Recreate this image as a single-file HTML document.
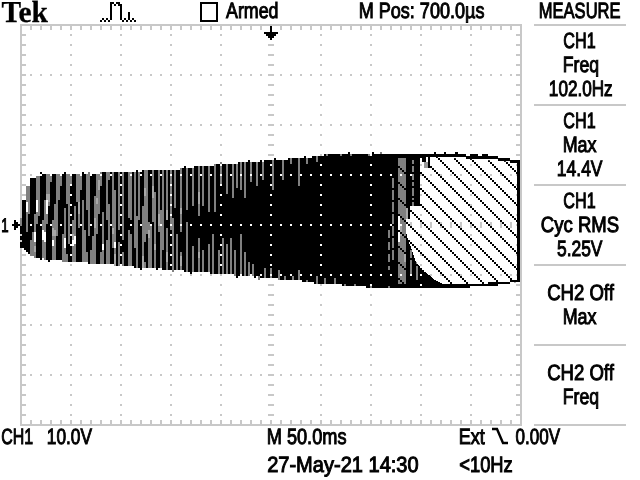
<!DOCTYPE html>
<html><head><meta charset="utf-8"><title>Tek</title>
<style>html,body{margin:0;padding:0;background:#fff;overflow:hidden;width:640px;height:480px}svg{display:block}text{fill:#000}</style></head>
<body><svg width="640" height="480" viewBox="0 0 640 480" shape-rendering="crispEdges">
<rect width="640" height="480" fill="#fff"/>
<path d="M20 24h502v2h-502zM20 424h502v2h-502zM20 24h2v402h-2zM520 24h2v402h-2zM30 26h2v4h-2zM30 420h2v4h-2zM40 26h2v4h-2zM40 420h2v4h-2zM50 26h2v4h-2zM50 420h2v4h-2zM60 26h2v4h-2zM60 420h2v4h-2zM70 26h2v4h-2zM70 420h2v4h-2zM80 26h2v4h-2zM80 420h2v4h-2zM90 26h2v4h-2zM90 420h2v4h-2zM100 26h2v4h-2zM100 420h2v4h-2zM110 26h2v4h-2zM110 420h2v4h-2zM120 26h2v4h-2zM120 420h2v4h-2zM130 26h2v4h-2zM130 420h2v4h-2zM140 26h2v4h-2zM140 420h2v4h-2zM150 26h2v4h-2zM150 420h2v4h-2zM160 26h2v4h-2zM160 420h2v4h-2zM170 26h2v4h-2zM170 420h2v4h-2zM180 26h2v4h-2zM180 420h2v4h-2zM190 26h2v4h-2zM190 420h2v4h-2zM200 26h2v4h-2zM200 420h2v4h-2zM210 26h2v4h-2zM210 420h2v4h-2zM220 26h2v4h-2zM220 420h2v4h-2zM230 26h2v4h-2zM230 420h2v4h-2zM240 26h2v4h-2zM240 420h2v4h-2zM250 26h2v4h-2zM250 420h2v4h-2zM260 26h2v4h-2zM260 420h2v4h-2zM270 26h2v4h-2zM270 420h2v4h-2zM280 26h2v4h-2zM280 420h2v4h-2zM290 26h2v4h-2zM290 420h2v4h-2zM300 26h2v4h-2zM300 420h2v4h-2zM310 26h2v4h-2zM310 420h2v4h-2zM320 26h2v4h-2zM320 420h2v4h-2zM330 26h2v4h-2zM330 420h2v4h-2zM340 26h2v4h-2zM340 420h2v4h-2zM350 26h2v4h-2zM350 420h2v4h-2zM360 26h2v4h-2zM360 420h2v4h-2zM370 26h2v4h-2zM370 420h2v4h-2zM380 26h2v4h-2zM380 420h2v4h-2zM390 26h2v4h-2zM390 420h2v4h-2zM400 26h2v4h-2zM400 420h2v4h-2zM410 26h2v4h-2zM410 420h2v4h-2zM420 26h2v4h-2zM420 420h2v4h-2zM430 26h2v4h-2zM430 420h2v4h-2zM440 26h2v4h-2zM440 420h2v4h-2zM450 26h2v4h-2zM450 420h2v4h-2zM460 26h2v4h-2zM460 420h2v4h-2zM470 26h2v4h-2zM470 420h2v4h-2zM480 26h2v4h-2zM480 420h2v4h-2zM490 26h2v4h-2zM490 420h2v4h-2zM500 26h2v4h-2zM500 420h2v4h-2zM510 26h2v4h-2zM510 420h2v4h-2zM22 34h4v2h-4zM516 34h4v2h-4zM22 44h4v2h-4zM516 44h4v2h-4zM22 54h4v2h-4zM516 54h4v2h-4zM22 64h4v2h-4zM516 64h4v2h-4zM22 74h4v2h-4zM516 74h4v2h-4zM22 84h4v2h-4zM516 84h4v2h-4zM22 94h4v2h-4zM516 94h4v2h-4zM22 104h4v2h-4zM516 104h4v2h-4zM22 114h4v2h-4zM516 114h4v2h-4zM22 124h4v2h-4zM516 124h4v2h-4zM22 134h4v2h-4zM516 134h4v2h-4zM22 144h4v2h-4zM516 144h4v2h-4zM22 154h4v2h-4zM516 154h4v2h-4zM22 164h4v2h-4zM516 164h4v2h-4zM22 174h4v2h-4zM516 174h4v2h-4zM22 184h4v2h-4zM516 184h4v2h-4zM22 194h4v2h-4zM516 194h4v2h-4zM22 204h4v2h-4zM516 204h4v2h-4zM22 214h4v2h-4zM516 214h4v2h-4zM22 224h4v2h-4zM516 224h4v2h-4zM22 234h4v2h-4zM516 234h4v2h-4zM22 244h4v2h-4zM516 244h4v2h-4zM22 254h4v2h-4zM516 254h4v2h-4zM22 264h4v2h-4zM516 264h4v2h-4zM22 274h4v2h-4zM516 274h4v2h-4zM22 284h4v2h-4zM516 284h4v2h-4zM22 294h4v2h-4zM516 294h4v2h-4zM22 304h4v2h-4zM516 304h4v2h-4zM22 314h4v2h-4zM516 314h4v2h-4zM22 324h4v2h-4zM516 324h4v2h-4zM22 334h4v2h-4zM516 334h4v2h-4zM22 344h4v2h-4zM516 344h4v2h-4zM22 354h4v2h-4zM516 354h4v2h-4zM22 364h4v2h-4zM516 364h4v2h-4zM22 374h4v2h-4zM516 374h4v2h-4zM22 384h4v2h-4zM516 384h4v2h-4zM22 394h4v2h-4zM516 394h4v2h-4zM22 404h4v2h-4zM516 404h4v2h-4zM22 414h4v2h-4zM516 414h4v2h-4zM30 222h2v6h-2zM40 222h2v6h-2zM50 222h2v6h-2zM60 222h2v6h-2zM70 222h2v6h-2zM80 222h2v6h-2zM90 222h2v6h-2zM100 222h2v6h-2zM110 222h2v6h-2zM120 222h2v6h-2zM130 222h2v6h-2zM140 222h2v6h-2zM150 222h2v6h-2zM160 222h2v6h-2zM170 222h2v6h-2zM180 222h2v6h-2zM190 222h2v6h-2zM200 222h2v6h-2zM210 222h2v6h-2zM220 222h2v6h-2zM230 222h2v6h-2zM240 222h2v6h-2zM250 222h2v6h-2zM260 222h2v6h-2zM270 222h2v6h-2zM280 222h2v6h-2zM290 222h2v6h-2zM300 222h2v6h-2zM310 222h2v6h-2zM320 222h2v6h-2zM330 222h2v6h-2zM340 222h2v6h-2zM350 222h2v6h-2zM360 222h2v6h-2zM370 222h2v6h-2zM380 222h2v6h-2zM390 222h2v6h-2zM400 222h2v6h-2zM410 222h2v6h-2zM420 222h2v6h-2zM430 222h2v6h-2zM440 222h2v6h-2zM450 222h2v6h-2zM460 222h2v6h-2zM470 222h2v6h-2zM480 222h2v6h-2zM490 222h2v6h-2zM500 222h2v6h-2zM510 222h2v6h-2zM268 34h6v2h-6zM268 44h6v2h-6zM268 54h6v2h-6zM268 64h6v2h-6zM268 74h6v2h-6zM268 84h6v2h-6zM268 94h6v2h-6zM268 104h6v2h-6zM268 114h6v2h-6zM268 124h6v2h-6zM268 134h6v2h-6zM268 144h6v2h-6zM268 154h6v2h-6zM268 164h6v2h-6zM268 174h6v2h-6zM268 184h6v2h-6zM268 194h6v2h-6zM268 204h6v2h-6zM268 214h6v2h-6zM268 224h6v2h-6zM268 234h6v2h-6zM268 244h6v2h-6zM268 254h6v2h-6zM268 264h6v2h-6zM268 274h6v2h-6zM268 284h6v2h-6zM268 294h6v2h-6zM268 304h6v2h-6zM268 314h6v2h-6zM268 324h6v2h-6zM268 334h6v2h-6zM268 344h6v2h-6zM268 354h6v2h-6zM268 364h6v2h-6zM268 374h6v2h-6zM268 384h6v2h-6zM268 394h6v2h-6zM268 404h6v2h-6zM268 414h6v2h-6zM70 34h2v2h-2zM70 44h2v2h-2zM70 54h2v2h-2zM70 64h2v2h-2zM70 74h2v2h-2zM70 84h2v2h-2zM70 94h2v2h-2zM70 104h2v2h-2zM70 114h2v2h-2zM70 124h2v2h-2zM70 134h2v2h-2zM70 144h2v2h-2zM70 154h2v2h-2zM70 164h2v2h-2zM70 174h2v2h-2zM70 184h2v2h-2zM70 194h2v2h-2zM70 204h2v2h-2zM70 214h2v2h-2zM70 224h2v2h-2zM70 234h2v2h-2zM70 244h2v2h-2zM70 254h2v2h-2zM70 264h2v2h-2zM70 274h2v2h-2zM70 284h2v2h-2zM70 294h2v2h-2zM70 304h2v2h-2zM70 314h2v2h-2zM70 324h2v2h-2zM70 334h2v2h-2zM70 344h2v2h-2zM70 354h2v2h-2zM70 364h2v2h-2zM70 374h2v2h-2zM70 384h2v2h-2zM70 394h2v2h-2zM70 404h2v2h-2zM70 414h2v2h-2zM120 34h2v2h-2zM120 44h2v2h-2zM120 54h2v2h-2zM120 64h2v2h-2zM120 74h2v2h-2zM120 84h2v2h-2zM120 94h2v2h-2zM120 104h2v2h-2zM120 114h2v2h-2zM120 124h2v2h-2zM120 134h2v2h-2zM120 144h2v2h-2zM120 154h2v2h-2zM120 164h2v2h-2zM120 174h2v2h-2zM120 184h2v2h-2zM120 194h2v2h-2zM120 204h2v2h-2zM120 214h2v2h-2zM120 224h2v2h-2zM120 234h2v2h-2zM120 244h2v2h-2zM120 254h2v2h-2zM120 264h2v2h-2zM120 274h2v2h-2zM120 284h2v2h-2zM120 294h2v2h-2zM120 304h2v2h-2zM120 314h2v2h-2zM120 324h2v2h-2zM120 334h2v2h-2zM120 344h2v2h-2zM120 354h2v2h-2zM120 364h2v2h-2zM120 374h2v2h-2zM120 384h2v2h-2zM120 394h2v2h-2zM120 404h2v2h-2zM120 414h2v2h-2zM170 34h2v2h-2zM170 44h2v2h-2zM170 54h2v2h-2zM170 64h2v2h-2zM170 74h2v2h-2zM170 84h2v2h-2zM170 94h2v2h-2zM170 104h2v2h-2zM170 114h2v2h-2zM170 124h2v2h-2zM170 134h2v2h-2zM170 144h2v2h-2zM170 154h2v2h-2zM170 164h2v2h-2zM170 174h2v2h-2zM170 184h2v2h-2zM170 194h2v2h-2zM170 204h2v2h-2zM170 214h2v2h-2zM170 224h2v2h-2zM170 234h2v2h-2zM170 244h2v2h-2zM170 254h2v2h-2zM170 264h2v2h-2zM170 274h2v2h-2zM170 284h2v2h-2zM170 294h2v2h-2zM170 304h2v2h-2zM170 314h2v2h-2zM170 324h2v2h-2zM170 334h2v2h-2zM170 344h2v2h-2zM170 354h2v2h-2zM170 364h2v2h-2zM170 374h2v2h-2zM170 384h2v2h-2zM170 394h2v2h-2zM170 404h2v2h-2zM170 414h2v2h-2zM220 34h2v2h-2zM220 44h2v2h-2zM220 54h2v2h-2zM220 64h2v2h-2zM220 74h2v2h-2zM220 84h2v2h-2zM220 94h2v2h-2zM220 104h2v2h-2zM220 114h2v2h-2zM220 124h2v2h-2zM220 134h2v2h-2zM220 144h2v2h-2zM220 154h2v2h-2zM220 164h2v2h-2zM220 174h2v2h-2zM220 184h2v2h-2zM220 194h2v2h-2zM220 204h2v2h-2zM220 214h2v2h-2zM220 224h2v2h-2zM220 234h2v2h-2zM220 244h2v2h-2zM220 254h2v2h-2zM220 264h2v2h-2zM220 274h2v2h-2zM220 284h2v2h-2zM220 294h2v2h-2zM220 304h2v2h-2zM220 314h2v2h-2zM220 324h2v2h-2zM220 334h2v2h-2zM220 344h2v2h-2zM220 354h2v2h-2zM220 364h2v2h-2zM220 374h2v2h-2zM220 384h2v2h-2zM220 394h2v2h-2zM220 404h2v2h-2zM220 414h2v2h-2zM270 34h2v2h-2zM270 44h2v2h-2zM270 54h2v2h-2zM270 64h2v2h-2zM270 74h2v2h-2zM270 84h2v2h-2zM270 94h2v2h-2zM270 104h2v2h-2zM270 114h2v2h-2zM270 124h2v2h-2zM270 134h2v2h-2zM270 144h2v2h-2zM270 154h2v2h-2zM270 164h2v2h-2zM270 174h2v2h-2zM270 184h2v2h-2zM270 194h2v2h-2zM270 204h2v2h-2zM270 214h2v2h-2zM270 224h2v2h-2zM270 234h2v2h-2zM270 244h2v2h-2zM270 254h2v2h-2zM270 264h2v2h-2zM270 274h2v2h-2zM270 284h2v2h-2zM270 294h2v2h-2zM270 304h2v2h-2zM270 314h2v2h-2zM270 324h2v2h-2zM270 334h2v2h-2zM270 344h2v2h-2zM270 354h2v2h-2zM270 364h2v2h-2zM270 374h2v2h-2zM270 384h2v2h-2zM270 394h2v2h-2zM270 404h2v2h-2zM270 414h2v2h-2zM320 34h2v2h-2zM320 44h2v2h-2zM320 54h2v2h-2zM320 64h2v2h-2zM320 74h2v2h-2zM320 84h2v2h-2zM320 94h2v2h-2zM320 104h2v2h-2zM320 114h2v2h-2zM320 124h2v2h-2zM320 134h2v2h-2zM320 144h2v2h-2zM320 154h2v2h-2zM320 164h2v2h-2zM320 174h2v2h-2zM320 184h2v2h-2zM320 194h2v2h-2zM320 204h2v2h-2zM320 214h2v2h-2zM320 224h2v2h-2zM320 234h2v2h-2zM320 244h2v2h-2zM320 254h2v2h-2zM320 264h2v2h-2zM320 274h2v2h-2zM320 284h2v2h-2zM320 294h2v2h-2zM320 304h2v2h-2zM320 314h2v2h-2zM320 324h2v2h-2zM320 334h2v2h-2zM320 344h2v2h-2zM320 354h2v2h-2zM320 364h2v2h-2zM320 374h2v2h-2zM320 384h2v2h-2zM320 394h2v2h-2zM320 404h2v2h-2zM320 414h2v2h-2zM370 34h2v2h-2zM370 44h2v2h-2zM370 54h2v2h-2zM370 64h2v2h-2zM370 74h2v2h-2zM370 84h2v2h-2zM370 94h2v2h-2zM370 104h2v2h-2zM370 114h2v2h-2zM370 124h2v2h-2zM370 134h2v2h-2zM370 144h2v2h-2zM370 154h2v2h-2zM370 164h2v2h-2zM370 174h2v2h-2zM370 184h2v2h-2zM370 194h2v2h-2zM370 204h2v2h-2zM370 214h2v2h-2zM370 224h2v2h-2zM370 234h2v2h-2zM370 244h2v2h-2zM370 254h2v2h-2zM370 264h2v2h-2zM370 274h2v2h-2zM370 284h2v2h-2zM370 294h2v2h-2zM370 304h2v2h-2zM370 314h2v2h-2zM370 324h2v2h-2zM370 334h2v2h-2zM370 344h2v2h-2zM370 354h2v2h-2zM370 364h2v2h-2zM370 374h2v2h-2zM370 384h2v2h-2zM370 394h2v2h-2zM370 404h2v2h-2zM370 414h2v2h-2zM420 34h2v2h-2zM420 44h2v2h-2zM420 54h2v2h-2zM420 64h2v2h-2zM420 74h2v2h-2zM420 84h2v2h-2zM420 94h2v2h-2zM420 104h2v2h-2zM420 114h2v2h-2zM420 124h2v2h-2zM420 134h2v2h-2zM420 144h2v2h-2zM420 154h2v2h-2zM420 164h2v2h-2zM420 174h2v2h-2zM420 184h2v2h-2zM420 194h2v2h-2zM420 204h2v2h-2zM420 214h2v2h-2zM420 224h2v2h-2zM420 234h2v2h-2zM420 244h2v2h-2zM420 254h2v2h-2zM420 264h2v2h-2zM420 274h2v2h-2zM420 284h2v2h-2zM420 294h2v2h-2zM420 304h2v2h-2zM420 314h2v2h-2zM420 324h2v2h-2zM420 334h2v2h-2zM420 344h2v2h-2zM420 354h2v2h-2zM420 364h2v2h-2zM420 374h2v2h-2zM420 384h2v2h-2zM420 394h2v2h-2zM420 404h2v2h-2zM420 414h2v2h-2zM470 34h2v2h-2zM470 44h2v2h-2zM470 54h2v2h-2zM470 64h2v2h-2zM470 74h2v2h-2zM470 84h2v2h-2zM470 94h2v2h-2zM470 104h2v2h-2zM470 114h2v2h-2zM470 124h2v2h-2zM470 134h2v2h-2zM470 144h2v2h-2zM470 154h2v2h-2zM470 164h2v2h-2zM470 174h2v2h-2zM470 184h2v2h-2zM470 194h2v2h-2zM470 204h2v2h-2zM470 214h2v2h-2zM470 224h2v2h-2zM470 234h2v2h-2zM470 244h2v2h-2zM470 254h2v2h-2zM470 264h2v2h-2zM470 274h2v2h-2zM470 284h2v2h-2zM470 294h2v2h-2zM470 304h2v2h-2zM470 314h2v2h-2zM470 324h2v2h-2zM470 334h2v2h-2zM470 344h2v2h-2zM470 354h2v2h-2zM470 364h2v2h-2zM470 374h2v2h-2zM470 384h2v2h-2zM470 394h2v2h-2zM470 404h2v2h-2zM470 414h2v2h-2zM30 74h2v2h-2zM40 74h2v2h-2zM50 74h2v2h-2zM60 74h2v2h-2zM80 74h2v2h-2zM90 74h2v2h-2zM100 74h2v2h-2zM110 74h2v2h-2zM130 74h2v2h-2zM140 74h2v2h-2zM150 74h2v2h-2zM160 74h2v2h-2zM180 74h2v2h-2zM190 74h2v2h-2zM200 74h2v2h-2zM210 74h2v2h-2zM230 74h2v2h-2zM240 74h2v2h-2zM250 74h2v2h-2zM260 74h2v2h-2zM280 74h2v2h-2zM290 74h2v2h-2zM300 74h2v2h-2zM310 74h2v2h-2zM330 74h2v2h-2zM340 74h2v2h-2zM350 74h2v2h-2zM360 74h2v2h-2zM380 74h2v2h-2zM390 74h2v2h-2zM400 74h2v2h-2zM410 74h2v2h-2zM430 74h2v2h-2zM440 74h2v2h-2zM450 74h2v2h-2zM460 74h2v2h-2zM480 74h2v2h-2zM490 74h2v2h-2zM500 74h2v2h-2zM510 74h2v2h-2zM30 124h2v2h-2zM40 124h2v2h-2zM50 124h2v2h-2zM60 124h2v2h-2zM80 124h2v2h-2zM90 124h2v2h-2zM100 124h2v2h-2zM110 124h2v2h-2zM130 124h2v2h-2zM140 124h2v2h-2zM150 124h2v2h-2zM160 124h2v2h-2zM180 124h2v2h-2zM190 124h2v2h-2zM200 124h2v2h-2zM210 124h2v2h-2zM230 124h2v2h-2zM240 124h2v2h-2zM250 124h2v2h-2zM260 124h2v2h-2zM280 124h2v2h-2zM290 124h2v2h-2zM300 124h2v2h-2zM310 124h2v2h-2zM330 124h2v2h-2zM340 124h2v2h-2zM350 124h2v2h-2zM360 124h2v2h-2zM380 124h2v2h-2zM390 124h2v2h-2zM400 124h2v2h-2zM410 124h2v2h-2zM430 124h2v2h-2zM440 124h2v2h-2zM450 124h2v2h-2zM460 124h2v2h-2zM480 124h2v2h-2zM490 124h2v2h-2zM500 124h2v2h-2zM510 124h2v2h-2zM30 174h2v2h-2zM40 174h2v2h-2zM50 174h2v2h-2zM60 174h2v2h-2zM80 174h2v2h-2zM90 174h2v2h-2zM100 174h2v2h-2zM110 174h2v2h-2zM130 174h2v2h-2zM140 174h2v2h-2zM150 174h2v2h-2zM160 174h2v2h-2zM180 174h2v2h-2zM190 174h2v2h-2zM200 174h2v2h-2zM210 174h2v2h-2zM230 174h2v2h-2zM240 174h2v2h-2zM250 174h2v2h-2zM260 174h2v2h-2zM280 174h2v2h-2zM290 174h2v2h-2zM300 174h2v2h-2zM310 174h2v2h-2zM330 174h2v2h-2zM340 174h2v2h-2zM350 174h2v2h-2zM360 174h2v2h-2zM380 174h2v2h-2zM390 174h2v2h-2zM400 174h2v2h-2zM410 174h2v2h-2zM430 174h2v2h-2zM440 174h2v2h-2zM450 174h2v2h-2zM460 174h2v2h-2zM480 174h2v2h-2zM490 174h2v2h-2zM500 174h2v2h-2zM510 174h2v2h-2zM30 224h2v2h-2zM40 224h2v2h-2zM50 224h2v2h-2zM60 224h2v2h-2zM80 224h2v2h-2zM90 224h2v2h-2zM100 224h2v2h-2zM110 224h2v2h-2zM130 224h2v2h-2zM140 224h2v2h-2zM150 224h2v2h-2zM160 224h2v2h-2zM180 224h2v2h-2zM190 224h2v2h-2zM200 224h2v2h-2zM210 224h2v2h-2zM230 224h2v2h-2zM240 224h2v2h-2zM250 224h2v2h-2zM260 224h2v2h-2zM280 224h2v2h-2zM290 224h2v2h-2zM300 224h2v2h-2zM310 224h2v2h-2zM330 224h2v2h-2zM340 224h2v2h-2zM350 224h2v2h-2zM360 224h2v2h-2zM380 224h2v2h-2zM390 224h2v2h-2zM400 224h2v2h-2zM410 224h2v2h-2zM430 224h2v2h-2zM440 224h2v2h-2zM450 224h2v2h-2zM460 224h2v2h-2zM480 224h2v2h-2zM490 224h2v2h-2zM500 224h2v2h-2zM510 224h2v2h-2zM30 274h2v2h-2zM40 274h2v2h-2zM50 274h2v2h-2zM60 274h2v2h-2zM80 274h2v2h-2zM90 274h2v2h-2zM100 274h2v2h-2zM110 274h2v2h-2zM130 274h2v2h-2zM140 274h2v2h-2zM150 274h2v2h-2zM160 274h2v2h-2zM180 274h2v2h-2zM190 274h2v2h-2zM200 274h2v2h-2zM210 274h2v2h-2zM230 274h2v2h-2zM240 274h2v2h-2zM250 274h2v2h-2zM260 274h2v2h-2zM280 274h2v2h-2zM290 274h2v2h-2zM300 274h2v2h-2zM310 274h2v2h-2zM330 274h2v2h-2zM340 274h2v2h-2zM350 274h2v2h-2zM360 274h2v2h-2zM380 274h2v2h-2zM390 274h2v2h-2zM400 274h2v2h-2zM410 274h2v2h-2zM430 274h2v2h-2zM440 274h2v2h-2zM450 274h2v2h-2zM460 274h2v2h-2zM480 274h2v2h-2zM490 274h2v2h-2zM500 274h2v2h-2zM510 274h2v2h-2zM30 324h2v2h-2zM40 324h2v2h-2zM50 324h2v2h-2zM60 324h2v2h-2zM80 324h2v2h-2zM90 324h2v2h-2zM100 324h2v2h-2zM110 324h2v2h-2zM130 324h2v2h-2zM140 324h2v2h-2zM150 324h2v2h-2zM160 324h2v2h-2zM180 324h2v2h-2zM190 324h2v2h-2zM200 324h2v2h-2zM210 324h2v2h-2zM230 324h2v2h-2zM240 324h2v2h-2zM250 324h2v2h-2zM260 324h2v2h-2zM280 324h2v2h-2zM290 324h2v2h-2zM300 324h2v2h-2zM310 324h2v2h-2zM330 324h2v2h-2zM340 324h2v2h-2zM350 324h2v2h-2zM360 324h2v2h-2zM380 324h2v2h-2zM390 324h2v2h-2zM400 324h2v2h-2zM410 324h2v2h-2zM430 324h2v2h-2zM440 324h2v2h-2zM450 324h2v2h-2zM460 324h2v2h-2zM480 324h2v2h-2zM490 324h2v2h-2zM500 324h2v2h-2zM510 324h2v2h-2zM30 374h2v2h-2zM40 374h2v2h-2zM50 374h2v2h-2zM60 374h2v2h-2zM80 374h2v2h-2zM90 374h2v2h-2zM100 374h2v2h-2zM110 374h2v2h-2zM130 374h2v2h-2zM140 374h2v2h-2zM150 374h2v2h-2zM160 374h2v2h-2zM180 374h2v2h-2zM190 374h2v2h-2zM200 374h2v2h-2zM210 374h2v2h-2zM230 374h2v2h-2zM240 374h2v2h-2zM250 374h2v2h-2zM260 374h2v2h-2zM280 374h2v2h-2zM290 374h2v2h-2zM300 374h2v2h-2zM310 374h2v2h-2zM330 374h2v2h-2zM340 374h2v2h-2zM350 374h2v2h-2zM360 374h2v2h-2zM380 374h2v2h-2zM390 374h2v2h-2zM400 374h2v2h-2zM410 374h2v2h-2zM430 374h2v2h-2zM440 374h2v2h-2zM450 374h2v2h-2zM460 374h2v2h-2zM480 374h2v2h-2zM490 374h2v2h-2zM500 374h2v2h-2zM510 374h2v2h-2z" fill="#c8c8c8"/>
<g fill="#c8c8c8">
<rect x="534" y="24" width="92" height="2"/><rect x="534" y="104" width="92" height="2"/><rect x="534" y="184" width="92" height="2"/><rect x="534" y="264" width="92" height="2"/><rect x="534" y="344" width="92" height="2"/><rect x="534" y="424" width="92" height="2"/>
</g>
<path d="M20 218h2v8h-2zM26 186h2v16h-2zM26 212h2v20h-2zM28 186h2v28h-2zM30 240h2v16h-2zM32 232h2v24h-2zM34 214h2v18h-2zM34 242h2v4h-2zM34 252h2v6h-2zM36 176h2v24h-2zM36 212h2v12h-2zM38 176h2v40h-2zM42 220h2v10h-2zM42 240h2v18h-2zM44 200h2v32h-2zM44 242h2v18h-2zM46 174h2v20h-2zM46 214h2v10h-2zM48 174h2v20h-2zM48 202h2v4h-2zM50 174h2v8h-2zM52 220h2v8h-2zM52 236h2v4h-2zM52 246h2v14h-2zM54 204h2v26h-2zM54 236h2v24h-2zM56 174h2v62h-2zM58 174h2v26h-2zM60 174h2v12h-2zM62 234h2v28h-2zM64 208h2v30h-2zM64 248h2v14h-2zM66 174h2v30h-2zM66 254h2v8h-2zM68 174h2v70h-2zM70 174h2v10h-2zM72 220h2v14h-2zM72 246h2v16h-2zM74 206h2v30h-2zM74 244h2v18h-2zM76 174h2v28h-2zM78 174h2v28h-2zM78 214h2v14h-2zM80 174h2v16h-2zM82 200h2v62h-2zM84 230h2v32h-2zM86 174h2v36h-2zM86 252h2v10h-2zM88 172h2v64h-2zM90 250h2v14h-2zM92 236h2v28h-2zM94 196h2v22h-2zM94 228h2v36h-2zM96 174h2v24h-2zM96 204h2v30h-2zM98 174h2v6h-2zM98 190h2v24h-2zM100 172h2v14h-2zM100 252h2v12h-2zM102 212h2v32h-2zM102 250h2v14h-2zM106 172h2v48h-2zM106 240h2v24h-2zM108 172h2v8h-2zM108 204h2v60h-2zM112 172h2v56h-2zM112 234h2v14h-2zM114 190h2v52h-2zM114 248h2v6h-2zM118 172h2v58h-2zM118 242h2v24h-2zM122 172h2v68h-2zM122 252h2v14h-2zM128 172h2v46h-2zM128 230h2v36h-2zM130 172h2v48h-2zM130 234h2v32h-2zM134 172h2v76h-2zM136 216h2v52h-2zM138 172h2v48h-2zM142 206h2v50h-2zM144 170h2v18h-2zM144 196h2v46h-2zM144 262h2v6h-2zM146 170h2v64h-2zM148 222h2v8h-2zM148 238h2v30h-2zM150 224h2v44h-2zM152 170h2v16h-2zM152 198h2v24h-2zM154 192h2v52h-2zM154 250h2v18h-2zM158 170h2v44h-2zM158 226h2v6h-2zM160 210h2v58h-2zM162 170h2v80h-2zM166 170h2v40h-2zM166 228h2v24h-2zM166 262h2v8h-2zM170 170h2v60h-2zM172 218h2v54h-2zM174 170h2v38h-2zM176 234h2v36h-2zM180 168h2v40h-2zM180 214h2v18h-2zM180 252h2v4h-2zM180 266h2v4h-2zM186 168h2v42h-2zM186 222h2v50h-2zM192 168h2v38h-2zM192 246h2v26h-2zM198 166h2v26h-2zM198 204h2v12h-2zM198 238h2v14h-2zM198 258h2v14h-2zM202 166h2v40h-2zM202 250h2v22h-2zM208 166h2v46h-2zM208 244h2v28h-2zM212 234h2v40h-2zM214 164h2v48h-2zM218 250h2v24h-2zM220 162h2v24h-2zM222 238h2v36h-2zM226 164h2v30h-2zM226 244h2v30h-2zM230 238h2v38h-2zM232 164h2v34h-2zM234 250h2v26h-2zM236 164h2v24h-2zM240 162h2v28h-2zM240 234h2v42h-2zM244 162h2v36h-2zM244 252h2v24h-2zM248 262h2v14h-2zM250 162h2v20h-2zM252 264h2v12h-2zM256 162h2v24h-2zM258 276h2v4h-2zM262 162h2v18h-2zM264 268h2v10h-2zM270 268h2v10h-2zM272 160h2v30h-2zM278 270h2v10h-2zM282 160h2v20h-2zM284 276h2v4h-2zM290 158h2v6h-2zM292 276h2v4h-2zM298 158h2v28h-2zM298 270h2v10h-2zM306 158h2v6h-2zM306 280h2v2h-2zM316 156h2v6h-2zM316 276h2v8h-2zM324 278h2v6h-2zM326 154h2v2h-2zM334 278h2v6h-2zM340 154h2v2h-2zM344 284h2v2h-2zM350 154h2v2h-2zM354 284h2v2h-2zM368 154h2v2h-2zM370 286h2v2h-2zM380 152h2v2h-2zM388 230h2v8h-2zM388 242h2v8h-2zM388 254h2v8h-2zM388 266h2v4h-2zM388 286h2v2h-2zM392 178h2v10h-2zM392 190h2v10h-2zM392 202h2v10h-2zM392 214h2v10h-2zM392 226h2v10h-2zM392 238h2v10h-2zM392 250h2v10h-2zM398 158h2v58h-2zM398 242h2v42h-2zM400 158h2v68h-2zM400 236h2v48h-2zM402 158h2v126h-2zM404 158h2v94h-2zM404 262h2v22h-2zM410 250h2v26h-2zM412 160h2v12h-2zM412 174h2v12h-2zM412 188h2v12h-2zM412 202h2v4h-2zM416 262h2v18h-2z" fill="#808080"/>
<path d="M34 246h2v6h-2zM46 194h2v6h-2zM48 194h2v8h-2zM52 228h2v8h-2zM54 230h2v6h-2zM72 234h2v6h-2zM78 202h2v12h-2zM94 218h2v10h-2zM96 198h2v6h-2zM98 180h2v10h-2zM112 228h2v6h-2zM114 254h2v12h-2zM142 256h2v12h-2zM144 188h2v8h-2zM148 230h2v8h-2zM152 186h2v12h-2zM154 244h2v6h-2zM158 214h2v12h-2zM166 210h2v12h-2zM166 252h2v10h-2zM180 208h2v6h-2zM180 256h2v10h-2zM198 192h2v12h-2zM198 252h2v6h-2zM400 226h2v10h-2zM404 252h2v10h-2zM406 206h2v13h-2zM406 219h2v13h-2z" fill="#a8a8a8"/>
<path d="M20 226h2v8h-2zM20 236h2v4h-2zM20 242h2v6h-2zM22 200h2v48h-2zM24 200h2v50h-2zM26 232h2v20h-2zM28 214h2v40h-2zM30 178h2v62h-2zM32 178h2v54h-2zM34 178h2v36h-2zM36 224h2v34h-2zM38 216h2v42h-2zM40 172h2v88h-2zM42 174h2v46h-2zM44 174h2v26h-2zM46 224h2v36h-2zM48 206h2v56h-2zM50 182h2v78h-2zM52 174h2v46h-2zM54 174h2v30h-2zM56 236h2v24h-2zM58 200h2v60h-2zM60 186h2v74h-2zM62 174h2v60h-2zM64 172h2v36h-2zM66 204h2v50h-2zM68 244h2v18h-2zM70 184h2v78h-2zM72 174h2v46h-2zM74 174h2v32h-2zM76 202h2v60h-2zM78 228h2v34h-2zM80 190h2v72h-2zM82 172h2v28h-2zM84 174h2v56h-2zM86 210h2v42h-2zM88 236h2v28h-2zM90 174h2v76h-2zM92 174h2v62h-2zM94 174h2v22h-2zM96 234h2v30h-2zM98 214h2v50h-2zM100 186h2v66h-2zM102 172h2v40h-2zM104 172h2v92h-2zM106 220h2v20h-2zM108 180h2v24h-2zM110 172h2v92h-2zM112 248h2v16h-2zM114 172h2v18h-2zM116 172h2v94h-2zM118 230h2v12h-2zM120 172h2v94h-2zM122 240h2v12h-2zM124 172h2v94h-2zM126 172h2v94h-2zM128 218h2v12h-2zM130 220h2v14h-2zM132 172h2v94h-2zM134 248h2v20h-2zM136 170h2v46h-2zM138 220h2v48h-2zM140 172h2v98h-2zM142 170h2v36h-2zM144 242h2v20h-2zM146 234h2v34h-2zM148 170h2v52h-2zM150 170h2v54h-2zM152 222h2v46h-2zM154 170h2v22h-2zM156 170h2v100h-2zM158 232h2v36h-2zM160 170h2v40h-2zM162 250h2v20h-2zM164 170h2v100h-2zM166 220h2v8h-2zM168 170h2v100h-2zM170 230h2v40h-2zM172 170h2v48h-2zM174 208h2v62h-2zM176 170h2v64h-2zM178 170h2v100h-2zM180 232h2v20h-2zM182 168h2v102h-2zM184 166h2v106h-2zM186 210h2v12h-2zM188 168h2v104h-2zM190 168h2v106h-2zM192 206h2v40h-2zM194 166h2v106h-2zM196 166h2v106h-2zM198 216h2v22h-2zM200 166h2v106h-2zM202 206h2v44h-2zM204 166h2v106h-2zM206 166h2v106h-2zM208 212h2v32h-2zM210 166h2v108h-2zM212 166h2v68h-2zM214 212h2v62h-2zM216 164h2v110h-2zM218 164h2v86h-2zM220 186h2v88h-2zM222 164h2v74h-2zM224 164h2v110h-2zM226 194h2v50h-2zM228 164h2v110h-2zM230 164h2v74h-2zM232 198h2v76h-2zM234 164h2v86h-2zM236 188h2v90h-2zM238 162h2v114h-2zM240 190h2v44h-2zM242 162h2v114h-2zM244 198h2v54h-2zM246 162h2v114h-2zM248 160h2v102h-2zM250 182h2v94h-2zM252 162h2v102h-2zM254 162h2v116h-2zM256 186h2v90h-2zM258 162h2v114h-2zM260 160h2v118h-2zM262 180h2v98h-2zM264 160h2v108h-2zM266 160h2v118h-2zM268 160h2v118h-2zM270 160h2v108h-2zM272 190h2v88h-2zM274 158h2v120h-2zM276 160h2v118h-2zM278 160h2v110h-2zM280 160h2v120h-2zM282 180h2v100h-2zM284 160h2v116h-2zM286 160h2v120h-2zM288 158h2v122h-2zM290 164h2v116h-2zM292 158h2v118h-2zM294 158h2v122h-2zM296 158h2v122h-2zM298 186h2v84h-2zM300 158h2v122h-2zM302 158h2v124h-2zM304 156h2v126h-2zM306 164h2v116h-2zM308 158h2v124h-2zM310 158h2v124h-2zM312 156h2v126h-2zM314 156h2v128h-2zM316 162h2v114h-2zM318 156h2v128h-2zM320 156h2v128h-2zM322 156h2v128h-2zM324 154h2v124h-2zM326 156h2v128h-2zM328 154h2v130h-2zM330 154h2v130h-2zM332 154h2v130h-2zM334 154h2v124h-2zM336 154h2v130h-2zM338 154h2v130h-2zM340 156h2v128h-2zM342 154h2v132h-2zM344 154h2v130h-2zM346 154h2v132h-2zM348 152h2v134h-2zM350 156h2v130h-2zM352 154h2v132h-2zM354 154h2v130h-2zM356 154h2v132h-2zM358 154h2v132h-2zM360 154h2v132h-2zM362 154h2v132h-2zM364 154h2v132h-2zM366 154h2v134h-2zM368 156h2v132h-2zM370 154h2v132h-2zM372 152h2v136h-2zM374 154h2v134h-2zM376 154h2v134h-2zM378 154h2v134h-2zM380 154h2v134h-2zM382 154h2v134h-2zM384 154h2v134h-2zM386 154h2v134h-2zM388 154h2v76h-2zM388 238h2v4h-2zM388 250h2v4h-2zM388 262h2v4h-2zM388 270h2v16h-2zM390 154h2v134h-2zM392 154h2v24h-2zM392 188h2v2h-2zM392 200h2v2h-2zM392 212h2v2h-2zM392 224h2v2h-2zM392 236h2v2h-2zM392 248h2v2h-2zM392 260h2v28h-2zM394 154h2v134h-2zM396 154h2v134h-2zM398 154h2v4h-2zM398 284h2v4h-2zM400 154h2v4h-2zM400 284h2v4h-2zM402 154h2v4h-2zM402 284h2v4h-2zM404 154h2v4h-2zM404 284h2v4h-2zM406 154h2v52h-2zM406 232h2v56h-2zM408 154h2v65h-2zM408 240h2v48h-2zM410 154h2v52h-2zM410 244h2v6h-2zM410 276h2v12h-2zM412 154h2v6h-2zM412 172h2v2h-2zM412 186h2v2h-2zM412 200h2v2h-2zM412 250h2v38h-2zM414 154h2v52h-2zM414 256h2v32h-2zM416 154h2v52h-2zM416 280h2v8h-2zM418 154h2v52h-2zM418 264h2v24h-2zM420 268h2v20h-2zM422 270h2v18h-2zM424 272h2v16h-2zM426 272h2v16h-2zM428 274h2v14h-2zM430 276h2v12h-2zM432 278h2v10h-2zM434 280h2v8h-2zM436 280h2v8h-2zM438 282h2v6h-2zM440 282h2v6h-2zM442 284h2v4h-2zM444 284h2v4h-2z" fill="#000"/>
<polygon points="420,156 520,160 520,284 446,288 445,285 435,280 429,275 422,270 415,260 412,250 408,240 406,232 406,219 410,219 410,206 420,206" fill="#fff"/>
<clipPath id="hc"><polygon points="420,156 520,160 520,284 446,288 445,285 435,280 429,275 422,270 415,260 412,250 408,240 406,232 406,219 410,219 410,206 420,206"/></clipPath>
<clipPath id="hc3"><polygon points="396,158 420,158 420,156 520,162 520,282 446,286 396,286"/></clipPath>
<g clip-path="url(#hc)"><path d="M20 24h502v2h-502zM20 424h502v2h-502zM20 24h2v402h-2zM520 24h2v402h-2zM30 26h2v4h-2zM30 420h2v4h-2zM40 26h2v4h-2zM40 420h2v4h-2zM50 26h2v4h-2zM50 420h2v4h-2zM60 26h2v4h-2zM60 420h2v4h-2zM70 26h2v4h-2zM70 420h2v4h-2zM80 26h2v4h-2zM80 420h2v4h-2zM90 26h2v4h-2zM90 420h2v4h-2zM100 26h2v4h-2zM100 420h2v4h-2zM110 26h2v4h-2zM110 420h2v4h-2zM120 26h2v4h-2zM120 420h2v4h-2zM130 26h2v4h-2zM130 420h2v4h-2zM140 26h2v4h-2zM140 420h2v4h-2zM150 26h2v4h-2zM150 420h2v4h-2zM160 26h2v4h-2zM160 420h2v4h-2zM170 26h2v4h-2zM170 420h2v4h-2zM180 26h2v4h-2zM180 420h2v4h-2zM190 26h2v4h-2zM190 420h2v4h-2zM200 26h2v4h-2zM200 420h2v4h-2zM210 26h2v4h-2zM210 420h2v4h-2zM220 26h2v4h-2zM220 420h2v4h-2zM230 26h2v4h-2zM230 420h2v4h-2zM240 26h2v4h-2zM240 420h2v4h-2zM250 26h2v4h-2zM250 420h2v4h-2zM260 26h2v4h-2zM260 420h2v4h-2zM270 26h2v4h-2zM270 420h2v4h-2zM280 26h2v4h-2zM280 420h2v4h-2zM290 26h2v4h-2zM290 420h2v4h-2zM300 26h2v4h-2zM300 420h2v4h-2zM310 26h2v4h-2zM310 420h2v4h-2zM320 26h2v4h-2zM320 420h2v4h-2zM330 26h2v4h-2zM330 420h2v4h-2zM340 26h2v4h-2zM340 420h2v4h-2zM350 26h2v4h-2zM350 420h2v4h-2zM360 26h2v4h-2zM360 420h2v4h-2zM370 26h2v4h-2zM370 420h2v4h-2zM380 26h2v4h-2zM380 420h2v4h-2zM390 26h2v4h-2zM390 420h2v4h-2zM400 26h2v4h-2zM400 420h2v4h-2zM410 26h2v4h-2zM410 420h2v4h-2zM420 26h2v4h-2zM420 420h2v4h-2zM430 26h2v4h-2zM430 420h2v4h-2zM440 26h2v4h-2zM440 420h2v4h-2zM450 26h2v4h-2zM450 420h2v4h-2zM460 26h2v4h-2zM460 420h2v4h-2zM470 26h2v4h-2zM470 420h2v4h-2zM480 26h2v4h-2zM480 420h2v4h-2zM490 26h2v4h-2zM490 420h2v4h-2zM500 26h2v4h-2zM500 420h2v4h-2zM510 26h2v4h-2zM510 420h2v4h-2zM22 34h4v2h-4zM516 34h4v2h-4zM22 44h4v2h-4zM516 44h4v2h-4zM22 54h4v2h-4zM516 54h4v2h-4zM22 64h4v2h-4zM516 64h4v2h-4zM22 74h4v2h-4zM516 74h4v2h-4zM22 84h4v2h-4zM516 84h4v2h-4zM22 94h4v2h-4zM516 94h4v2h-4zM22 104h4v2h-4zM516 104h4v2h-4zM22 114h4v2h-4zM516 114h4v2h-4zM22 124h4v2h-4zM516 124h4v2h-4zM22 134h4v2h-4zM516 134h4v2h-4zM22 144h4v2h-4zM516 144h4v2h-4zM22 154h4v2h-4zM516 154h4v2h-4zM22 164h4v2h-4zM516 164h4v2h-4zM22 174h4v2h-4zM516 174h4v2h-4zM22 184h4v2h-4zM516 184h4v2h-4zM22 194h4v2h-4zM516 194h4v2h-4zM22 204h4v2h-4zM516 204h4v2h-4zM22 214h4v2h-4zM516 214h4v2h-4zM22 224h4v2h-4zM516 224h4v2h-4zM22 234h4v2h-4zM516 234h4v2h-4zM22 244h4v2h-4zM516 244h4v2h-4zM22 254h4v2h-4zM516 254h4v2h-4zM22 264h4v2h-4zM516 264h4v2h-4zM22 274h4v2h-4zM516 274h4v2h-4zM22 284h4v2h-4zM516 284h4v2h-4zM22 294h4v2h-4zM516 294h4v2h-4zM22 304h4v2h-4zM516 304h4v2h-4zM22 314h4v2h-4zM516 314h4v2h-4zM22 324h4v2h-4zM516 324h4v2h-4zM22 334h4v2h-4zM516 334h4v2h-4zM22 344h4v2h-4zM516 344h4v2h-4zM22 354h4v2h-4zM516 354h4v2h-4zM22 364h4v2h-4zM516 364h4v2h-4zM22 374h4v2h-4zM516 374h4v2h-4zM22 384h4v2h-4zM516 384h4v2h-4zM22 394h4v2h-4zM516 394h4v2h-4zM22 404h4v2h-4zM516 404h4v2h-4zM22 414h4v2h-4zM516 414h4v2h-4zM30 222h2v6h-2zM40 222h2v6h-2zM50 222h2v6h-2zM60 222h2v6h-2zM70 222h2v6h-2zM80 222h2v6h-2zM90 222h2v6h-2zM100 222h2v6h-2zM110 222h2v6h-2zM120 222h2v6h-2zM130 222h2v6h-2zM140 222h2v6h-2zM150 222h2v6h-2zM160 222h2v6h-2zM170 222h2v6h-2zM180 222h2v6h-2zM190 222h2v6h-2zM200 222h2v6h-2zM210 222h2v6h-2zM220 222h2v6h-2zM230 222h2v6h-2zM240 222h2v6h-2zM250 222h2v6h-2zM260 222h2v6h-2zM270 222h2v6h-2zM280 222h2v6h-2zM290 222h2v6h-2zM300 222h2v6h-2zM310 222h2v6h-2zM320 222h2v6h-2zM330 222h2v6h-2zM340 222h2v6h-2zM350 222h2v6h-2zM360 222h2v6h-2zM370 222h2v6h-2zM380 222h2v6h-2zM390 222h2v6h-2zM400 222h2v6h-2zM410 222h2v6h-2zM420 222h2v6h-2zM430 222h2v6h-2zM440 222h2v6h-2zM450 222h2v6h-2zM460 222h2v6h-2zM470 222h2v6h-2zM480 222h2v6h-2zM490 222h2v6h-2zM500 222h2v6h-2zM510 222h2v6h-2zM268 34h6v2h-6zM268 44h6v2h-6zM268 54h6v2h-6zM268 64h6v2h-6zM268 74h6v2h-6zM268 84h6v2h-6zM268 94h6v2h-6zM268 104h6v2h-6zM268 114h6v2h-6zM268 124h6v2h-6zM268 134h6v2h-6zM268 144h6v2h-6zM268 154h6v2h-6zM268 164h6v2h-6zM268 174h6v2h-6zM268 184h6v2h-6zM268 194h6v2h-6zM268 204h6v2h-6zM268 214h6v2h-6zM268 224h6v2h-6zM268 234h6v2h-6zM268 244h6v2h-6zM268 254h6v2h-6zM268 264h6v2h-6zM268 274h6v2h-6zM268 284h6v2h-6zM268 294h6v2h-6zM268 304h6v2h-6zM268 314h6v2h-6zM268 324h6v2h-6zM268 334h6v2h-6zM268 344h6v2h-6zM268 354h6v2h-6zM268 364h6v2h-6zM268 374h6v2h-6zM268 384h6v2h-6zM268 394h6v2h-6zM268 404h6v2h-6zM268 414h6v2h-6zM70 34h2v2h-2zM70 44h2v2h-2zM70 54h2v2h-2zM70 64h2v2h-2zM70 74h2v2h-2zM70 84h2v2h-2zM70 94h2v2h-2zM70 104h2v2h-2zM70 114h2v2h-2zM70 124h2v2h-2zM70 134h2v2h-2zM70 144h2v2h-2zM70 154h2v2h-2zM70 164h2v2h-2zM70 174h2v2h-2zM70 184h2v2h-2zM70 194h2v2h-2zM70 204h2v2h-2zM70 214h2v2h-2zM70 224h2v2h-2zM70 234h2v2h-2zM70 244h2v2h-2zM70 254h2v2h-2zM70 264h2v2h-2zM70 274h2v2h-2zM70 284h2v2h-2zM70 294h2v2h-2zM70 304h2v2h-2zM70 314h2v2h-2zM70 324h2v2h-2zM70 334h2v2h-2zM70 344h2v2h-2zM70 354h2v2h-2zM70 364h2v2h-2zM70 374h2v2h-2zM70 384h2v2h-2zM70 394h2v2h-2zM70 404h2v2h-2zM70 414h2v2h-2zM120 34h2v2h-2zM120 44h2v2h-2zM120 54h2v2h-2zM120 64h2v2h-2zM120 74h2v2h-2zM120 84h2v2h-2zM120 94h2v2h-2zM120 104h2v2h-2zM120 114h2v2h-2zM120 124h2v2h-2zM120 134h2v2h-2zM120 144h2v2h-2zM120 154h2v2h-2zM120 164h2v2h-2zM120 174h2v2h-2zM120 184h2v2h-2zM120 194h2v2h-2zM120 204h2v2h-2zM120 214h2v2h-2zM120 224h2v2h-2zM120 234h2v2h-2zM120 244h2v2h-2zM120 254h2v2h-2zM120 264h2v2h-2zM120 274h2v2h-2zM120 284h2v2h-2zM120 294h2v2h-2zM120 304h2v2h-2zM120 314h2v2h-2zM120 324h2v2h-2zM120 334h2v2h-2zM120 344h2v2h-2zM120 354h2v2h-2zM120 364h2v2h-2zM120 374h2v2h-2zM120 384h2v2h-2zM120 394h2v2h-2zM120 404h2v2h-2zM120 414h2v2h-2zM170 34h2v2h-2zM170 44h2v2h-2zM170 54h2v2h-2zM170 64h2v2h-2zM170 74h2v2h-2zM170 84h2v2h-2zM170 94h2v2h-2zM170 104h2v2h-2zM170 114h2v2h-2zM170 124h2v2h-2zM170 134h2v2h-2zM170 144h2v2h-2zM170 154h2v2h-2zM170 164h2v2h-2zM170 174h2v2h-2zM170 184h2v2h-2zM170 194h2v2h-2zM170 204h2v2h-2zM170 214h2v2h-2zM170 224h2v2h-2zM170 234h2v2h-2zM170 244h2v2h-2zM170 254h2v2h-2zM170 264h2v2h-2zM170 274h2v2h-2zM170 284h2v2h-2zM170 294h2v2h-2zM170 304h2v2h-2zM170 314h2v2h-2zM170 324h2v2h-2zM170 334h2v2h-2zM170 344h2v2h-2zM170 354h2v2h-2zM170 364h2v2h-2zM170 374h2v2h-2zM170 384h2v2h-2zM170 394h2v2h-2zM170 404h2v2h-2zM170 414h2v2h-2zM220 34h2v2h-2zM220 44h2v2h-2zM220 54h2v2h-2zM220 64h2v2h-2zM220 74h2v2h-2zM220 84h2v2h-2zM220 94h2v2h-2zM220 104h2v2h-2zM220 114h2v2h-2zM220 124h2v2h-2zM220 134h2v2h-2zM220 144h2v2h-2zM220 154h2v2h-2zM220 164h2v2h-2zM220 174h2v2h-2zM220 184h2v2h-2zM220 194h2v2h-2zM220 204h2v2h-2zM220 214h2v2h-2zM220 224h2v2h-2zM220 234h2v2h-2zM220 244h2v2h-2zM220 254h2v2h-2zM220 264h2v2h-2zM220 274h2v2h-2zM220 284h2v2h-2zM220 294h2v2h-2zM220 304h2v2h-2zM220 314h2v2h-2zM220 324h2v2h-2zM220 334h2v2h-2zM220 344h2v2h-2zM220 354h2v2h-2zM220 364h2v2h-2zM220 374h2v2h-2zM220 384h2v2h-2zM220 394h2v2h-2zM220 404h2v2h-2zM220 414h2v2h-2zM270 34h2v2h-2zM270 44h2v2h-2zM270 54h2v2h-2zM270 64h2v2h-2zM270 74h2v2h-2zM270 84h2v2h-2zM270 94h2v2h-2zM270 104h2v2h-2zM270 114h2v2h-2zM270 124h2v2h-2zM270 134h2v2h-2zM270 144h2v2h-2zM270 154h2v2h-2zM270 164h2v2h-2zM270 174h2v2h-2zM270 184h2v2h-2zM270 194h2v2h-2zM270 204h2v2h-2zM270 214h2v2h-2zM270 224h2v2h-2zM270 234h2v2h-2zM270 244h2v2h-2zM270 254h2v2h-2zM270 264h2v2h-2zM270 274h2v2h-2zM270 284h2v2h-2zM270 294h2v2h-2zM270 304h2v2h-2zM270 314h2v2h-2zM270 324h2v2h-2zM270 334h2v2h-2zM270 344h2v2h-2zM270 354h2v2h-2zM270 364h2v2h-2zM270 374h2v2h-2zM270 384h2v2h-2zM270 394h2v2h-2zM270 404h2v2h-2zM270 414h2v2h-2zM320 34h2v2h-2zM320 44h2v2h-2zM320 54h2v2h-2zM320 64h2v2h-2zM320 74h2v2h-2zM320 84h2v2h-2zM320 94h2v2h-2zM320 104h2v2h-2zM320 114h2v2h-2zM320 124h2v2h-2zM320 134h2v2h-2zM320 144h2v2h-2zM320 154h2v2h-2zM320 164h2v2h-2zM320 174h2v2h-2zM320 184h2v2h-2zM320 194h2v2h-2zM320 204h2v2h-2zM320 214h2v2h-2zM320 224h2v2h-2zM320 234h2v2h-2zM320 244h2v2h-2zM320 254h2v2h-2zM320 264h2v2h-2zM320 274h2v2h-2zM320 284h2v2h-2zM320 294h2v2h-2zM320 304h2v2h-2zM320 314h2v2h-2zM320 324h2v2h-2zM320 334h2v2h-2zM320 344h2v2h-2zM320 354h2v2h-2zM320 364h2v2h-2zM320 374h2v2h-2zM320 384h2v2h-2zM320 394h2v2h-2zM320 404h2v2h-2zM320 414h2v2h-2zM370 34h2v2h-2zM370 44h2v2h-2zM370 54h2v2h-2zM370 64h2v2h-2zM370 74h2v2h-2zM370 84h2v2h-2zM370 94h2v2h-2zM370 104h2v2h-2zM370 114h2v2h-2zM370 124h2v2h-2zM370 134h2v2h-2zM370 144h2v2h-2zM370 154h2v2h-2zM370 164h2v2h-2zM370 174h2v2h-2zM370 184h2v2h-2zM370 194h2v2h-2zM370 204h2v2h-2zM370 214h2v2h-2zM370 224h2v2h-2zM370 234h2v2h-2zM370 244h2v2h-2zM370 254h2v2h-2zM370 264h2v2h-2zM370 274h2v2h-2zM370 284h2v2h-2zM370 294h2v2h-2zM370 304h2v2h-2zM370 314h2v2h-2zM370 324h2v2h-2zM370 334h2v2h-2zM370 344h2v2h-2zM370 354h2v2h-2zM370 364h2v2h-2zM370 374h2v2h-2zM370 384h2v2h-2zM370 394h2v2h-2zM370 404h2v2h-2zM370 414h2v2h-2zM420 34h2v2h-2zM420 44h2v2h-2zM420 54h2v2h-2zM420 64h2v2h-2zM420 74h2v2h-2zM420 84h2v2h-2zM420 94h2v2h-2zM420 104h2v2h-2zM420 114h2v2h-2zM420 124h2v2h-2zM420 134h2v2h-2zM420 144h2v2h-2zM420 154h2v2h-2zM420 164h2v2h-2zM420 174h2v2h-2zM420 184h2v2h-2zM420 194h2v2h-2zM420 204h2v2h-2zM420 214h2v2h-2zM420 224h2v2h-2zM420 234h2v2h-2zM420 244h2v2h-2zM420 254h2v2h-2zM420 264h2v2h-2zM420 274h2v2h-2zM420 284h2v2h-2zM420 294h2v2h-2zM420 304h2v2h-2zM420 314h2v2h-2zM420 324h2v2h-2zM420 334h2v2h-2zM420 344h2v2h-2zM420 354h2v2h-2zM420 364h2v2h-2zM420 374h2v2h-2zM420 384h2v2h-2zM420 394h2v2h-2zM420 404h2v2h-2zM420 414h2v2h-2zM470 34h2v2h-2zM470 44h2v2h-2zM470 54h2v2h-2zM470 64h2v2h-2zM470 74h2v2h-2zM470 84h2v2h-2zM470 94h2v2h-2zM470 104h2v2h-2zM470 114h2v2h-2zM470 124h2v2h-2zM470 134h2v2h-2zM470 144h2v2h-2zM470 154h2v2h-2zM470 164h2v2h-2zM470 174h2v2h-2zM470 184h2v2h-2zM470 194h2v2h-2zM470 204h2v2h-2zM470 214h2v2h-2zM470 224h2v2h-2zM470 234h2v2h-2zM470 244h2v2h-2zM470 254h2v2h-2zM470 264h2v2h-2zM470 274h2v2h-2zM470 284h2v2h-2zM470 294h2v2h-2zM470 304h2v2h-2zM470 314h2v2h-2zM470 324h2v2h-2zM470 334h2v2h-2zM470 344h2v2h-2zM470 354h2v2h-2zM470 364h2v2h-2zM470 374h2v2h-2zM470 384h2v2h-2zM470 394h2v2h-2zM470 404h2v2h-2zM470 414h2v2h-2zM30 74h2v2h-2zM40 74h2v2h-2zM50 74h2v2h-2zM60 74h2v2h-2zM80 74h2v2h-2zM90 74h2v2h-2zM100 74h2v2h-2zM110 74h2v2h-2zM130 74h2v2h-2zM140 74h2v2h-2zM150 74h2v2h-2zM160 74h2v2h-2zM180 74h2v2h-2zM190 74h2v2h-2zM200 74h2v2h-2zM210 74h2v2h-2zM230 74h2v2h-2zM240 74h2v2h-2zM250 74h2v2h-2zM260 74h2v2h-2zM280 74h2v2h-2zM290 74h2v2h-2zM300 74h2v2h-2zM310 74h2v2h-2zM330 74h2v2h-2zM340 74h2v2h-2zM350 74h2v2h-2zM360 74h2v2h-2zM380 74h2v2h-2zM390 74h2v2h-2zM400 74h2v2h-2zM410 74h2v2h-2zM430 74h2v2h-2zM440 74h2v2h-2zM450 74h2v2h-2zM460 74h2v2h-2zM480 74h2v2h-2zM490 74h2v2h-2zM500 74h2v2h-2zM510 74h2v2h-2zM30 124h2v2h-2zM40 124h2v2h-2zM50 124h2v2h-2zM60 124h2v2h-2zM80 124h2v2h-2zM90 124h2v2h-2zM100 124h2v2h-2zM110 124h2v2h-2zM130 124h2v2h-2zM140 124h2v2h-2zM150 124h2v2h-2zM160 124h2v2h-2zM180 124h2v2h-2zM190 124h2v2h-2zM200 124h2v2h-2zM210 124h2v2h-2zM230 124h2v2h-2zM240 124h2v2h-2zM250 124h2v2h-2zM260 124h2v2h-2zM280 124h2v2h-2zM290 124h2v2h-2zM300 124h2v2h-2zM310 124h2v2h-2zM330 124h2v2h-2zM340 124h2v2h-2zM350 124h2v2h-2zM360 124h2v2h-2zM380 124h2v2h-2zM390 124h2v2h-2zM400 124h2v2h-2zM410 124h2v2h-2zM430 124h2v2h-2zM440 124h2v2h-2zM450 124h2v2h-2zM460 124h2v2h-2zM480 124h2v2h-2zM490 124h2v2h-2zM500 124h2v2h-2zM510 124h2v2h-2zM30 174h2v2h-2zM40 174h2v2h-2zM50 174h2v2h-2zM60 174h2v2h-2zM80 174h2v2h-2zM90 174h2v2h-2zM100 174h2v2h-2zM110 174h2v2h-2zM130 174h2v2h-2zM140 174h2v2h-2zM150 174h2v2h-2zM160 174h2v2h-2zM180 174h2v2h-2zM190 174h2v2h-2zM200 174h2v2h-2zM210 174h2v2h-2zM230 174h2v2h-2zM240 174h2v2h-2zM250 174h2v2h-2zM260 174h2v2h-2zM280 174h2v2h-2zM290 174h2v2h-2zM300 174h2v2h-2zM310 174h2v2h-2zM330 174h2v2h-2zM340 174h2v2h-2zM350 174h2v2h-2zM360 174h2v2h-2zM380 174h2v2h-2zM390 174h2v2h-2zM400 174h2v2h-2zM410 174h2v2h-2zM430 174h2v2h-2zM440 174h2v2h-2zM450 174h2v2h-2zM460 174h2v2h-2zM480 174h2v2h-2zM490 174h2v2h-2zM500 174h2v2h-2zM510 174h2v2h-2zM30 224h2v2h-2zM40 224h2v2h-2zM50 224h2v2h-2zM60 224h2v2h-2zM80 224h2v2h-2zM90 224h2v2h-2zM100 224h2v2h-2zM110 224h2v2h-2zM130 224h2v2h-2zM140 224h2v2h-2zM150 224h2v2h-2zM160 224h2v2h-2zM180 224h2v2h-2zM190 224h2v2h-2zM200 224h2v2h-2zM210 224h2v2h-2zM230 224h2v2h-2zM240 224h2v2h-2zM250 224h2v2h-2zM260 224h2v2h-2zM280 224h2v2h-2zM290 224h2v2h-2zM300 224h2v2h-2zM310 224h2v2h-2zM330 224h2v2h-2zM340 224h2v2h-2zM350 224h2v2h-2zM360 224h2v2h-2zM380 224h2v2h-2zM390 224h2v2h-2zM400 224h2v2h-2zM410 224h2v2h-2zM430 224h2v2h-2zM440 224h2v2h-2zM450 224h2v2h-2zM460 224h2v2h-2zM480 224h2v2h-2zM490 224h2v2h-2zM500 224h2v2h-2zM510 224h2v2h-2zM30 274h2v2h-2zM40 274h2v2h-2zM50 274h2v2h-2zM60 274h2v2h-2zM80 274h2v2h-2zM90 274h2v2h-2zM100 274h2v2h-2zM110 274h2v2h-2zM130 274h2v2h-2zM140 274h2v2h-2zM150 274h2v2h-2zM160 274h2v2h-2zM180 274h2v2h-2zM190 274h2v2h-2zM200 274h2v2h-2zM210 274h2v2h-2zM230 274h2v2h-2zM240 274h2v2h-2zM250 274h2v2h-2zM260 274h2v2h-2zM280 274h2v2h-2zM290 274h2v2h-2zM300 274h2v2h-2zM310 274h2v2h-2zM330 274h2v2h-2zM340 274h2v2h-2zM350 274h2v2h-2zM360 274h2v2h-2zM380 274h2v2h-2zM390 274h2v2h-2zM400 274h2v2h-2zM410 274h2v2h-2zM430 274h2v2h-2zM440 274h2v2h-2zM450 274h2v2h-2zM460 274h2v2h-2zM480 274h2v2h-2zM490 274h2v2h-2zM500 274h2v2h-2zM510 274h2v2h-2zM30 324h2v2h-2zM40 324h2v2h-2zM50 324h2v2h-2zM60 324h2v2h-2zM80 324h2v2h-2zM90 324h2v2h-2zM100 324h2v2h-2zM110 324h2v2h-2zM130 324h2v2h-2zM140 324h2v2h-2zM150 324h2v2h-2zM160 324h2v2h-2zM180 324h2v2h-2zM190 324h2v2h-2zM200 324h2v2h-2zM210 324h2v2h-2zM230 324h2v2h-2zM240 324h2v2h-2zM250 324h2v2h-2zM260 324h2v2h-2zM280 324h2v2h-2zM290 324h2v2h-2zM300 324h2v2h-2zM310 324h2v2h-2zM330 324h2v2h-2zM340 324h2v2h-2zM350 324h2v2h-2zM360 324h2v2h-2zM380 324h2v2h-2zM390 324h2v2h-2zM400 324h2v2h-2zM410 324h2v2h-2zM430 324h2v2h-2zM440 324h2v2h-2zM450 324h2v2h-2zM460 324h2v2h-2zM480 324h2v2h-2zM490 324h2v2h-2zM500 324h2v2h-2zM510 324h2v2h-2zM30 374h2v2h-2zM40 374h2v2h-2zM50 374h2v2h-2zM60 374h2v2h-2zM80 374h2v2h-2zM90 374h2v2h-2zM100 374h2v2h-2zM110 374h2v2h-2zM130 374h2v2h-2zM140 374h2v2h-2zM150 374h2v2h-2zM160 374h2v2h-2zM180 374h2v2h-2zM190 374h2v2h-2zM200 374h2v2h-2zM210 374h2v2h-2zM230 374h2v2h-2zM240 374h2v2h-2zM250 374h2v2h-2zM260 374h2v2h-2zM280 374h2v2h-2zM290 374h2v2h-2zM300 374h2v2h-2zM310 374h2v2h-2zM330 374h2v2h-2zM340 374h2v2h-2zM350 374h2v2h-2zM360 374h2v2h-2zM380 374h2v2h-2zM390 374h2v2h-2zM400 374h2v2h-2zM410 374h2v2h-2zM430 374h2v2h-2zM440 374h2v2h-2zM450 374h2v2h-2zM460 374h2v2h-2zM480 374h2v2h-2zM490 374h2v2h-2zM500 374h2v2h-2zM510 374h2v2h-2z" fill="#c8c8c8"/></g>
<g clip-path="url(#hc3)"><path d="M396 292h2v2h-2zM398 294h2v2h-2zM400 296h2v2h-2zM402 298h2v2h-2zM396 276h2v2h-2zM398 278h2v2h-2zM400 280h2v2h-2zM402 282h2v2h-2zM404 284h2v2h-2zM406 286h2v2h-2zM408 288h2v2h-2zM410 290h2v2h-2zM412 292h2v2h-2zM414 294h2v2h-2zM416 296h2v2h-2zM418 298h2v2h-2zM396 260h2v2h-2zM398 262h2v2h-2zM400 264h2v2h-2zM402 266h2v2h-2zM404 268h2v2h-2zM406 270h2v2h-2zM408 272h2v2h-2zM410 274h2v2h-2zM412 276h2v2h-2zM414 278h2v2h-2zM416 280h2v2h-2zM418 282h2v2h-2zM420 284h2v2h-2zM422 286h2v2h-2zM424 288h2v2h-2zM426 290h2v2h-2zM428 292h2v2h-2zM430 294h2v2h-2zM432 296h2v2h-2zM434 298h2v2h-2zM396 244h2v2h-2zM398 246h2v2h-2zM400 248h2v2h-2zM402 250h2v2h-2zM404 252h2v2h-2zM406 254h2v2h-2zM408 256h2v2h-2zM410 258h2v2h-2zM412 260h2v2h-2zM414 262h2v2h-2zM416 264h2v2h-2zM418 266h2v2h-2zM420 268h2v2h-2zM422 270h2v2h-2zM424 272h2v2h-2zM426 274h2v2h-2zM428 276h2v2h-2zM430 278h2v2h-2zM432 280h2v2h-2zM434 282h2v2h-2zM436 284h2v2h-2zM438 286h2v2h-2zM440 288h2v2h-2zM442 290h2v2h-2zM444 292h2v2h-2zM446 294h2v2h-2zM448 296h2v2h-2zM450 298h2v2h-2zM396 228h2v2h-2zM398 230h2v2h-2zM400 232h2v2h-2zM402 234h2v2h-2zM404 236h2v2h-2zM406 238h2v2h-2zM408 240h2v2h-2zM410 242h2v2h-2zM412 244h2v2h-2zM414 246h2v2h-2zM416 248h2v2h-2zM418 250h2v2h-2zM420 252h2v2h-2zM422 254h2v2h-2zM424 256h2v2h-2zM426 258h2v2h-2zM428 260h2v2h-2zM430 262h2v2h-2zM432 264h2v2h-2zM434 266h2v2h-2zM436 268h2v2h-2zM438 270h2v2h-2zM440 272h2v2h-2zM442 274h2v2h-2zM444 276h2v2h-2zM446 278h2v2h-2zM448 280h2v2h-2zM450 282h2v2h-2zM452 284h2v2h-2zM454 286h2v2h-2zM456 288h2v2h-2zM458 290h2v2h-2zM460 292h2v2h-2zM462 294h2v2h-2zM464 296h2v2h-2zM466 298h2v2h-2zM396 212h2v2h-2zM398 214h2v2h-2zM400 216h2v2h-2zM402 218h2v2h-2zM404 220h2v2h-2zM406 222h2v2h-2zM408 224h2v2h-2zM410 226h2v2h-2zM412 228h2v2h-2zM414 230h2v2h-2zM416 232h2v2h-2zM418 234h2v2h-2zM420 236h2v2h-2zM422 238h2v2h-2zM424 240h2v2h-2zM426 242h2v2h-2zM428 244h2v2h-2zM430 246h2v2h-2zM432 248h2v2h-2zM434 250h2v2h-2zM436 252h2v2h-2zM438 254h2v2h-2zM440 256h2v2h-2zM442 258h2v2h-2zM444 260h2v2h-2zM446 262h2v2h-2zM448 264h2v2h-2zM450 266h2v2h-2zM452 268h2v2h-2zM454 270h2v2h-2zM456 272h2v2h-2zM458 274h2v2h-2zM460 276h2v2h-2zM462 278h2v2h-2zM464 280h2v2h-2zM466 282h2v2h-2zM468 284h2v2h-2zM470 286h2v2h-2zM472 288h2v2h-2zM474 290h2v2h-2zM476 292h2v2h-2zM478 294h2v2h-2zM480 296h2v2h-2zM482 298h2v2h-2zM396 196h2v2h-2zM398 198h2v2h-2zM400 200h2v2h-2zM402 202h2v2h-2zM404 204h2v2h-2zM406 206h2v2h-2zM408 208h2v2h-2zM410 210h2v2h-2zM412 212h2v2h-2zM414 214h2v2h-2zM416 216h2v2h-2zM418 218h2v2h-2zM420 220h2v2h-2zM422 222h2v2h-2zM424 224h2v2h-2zM426 226h2v2h-2zM428 228h2v2h-2zM430 230h2v2h-2zM432 232h2v2h-2zM434 234h2v2h-2zM436 236h2v2h-2zM438 238h2v2h-2zM440 240h2v2h-2zM442 242h2v2h-2zM444 244h2v2h-2zM446 246h2v2h-2zM448 248h2v2h-2zM450 250h2v2h-2zM452 252h2v2h-2zM454 254h2v2h-2zM456 256h2v2h-2zM458 258h2v2h-2zM460 260h2v2h-2zM462 262h2v2h-2zM464 264h2v2h-2zM466 266h2v2h-2zM468 268h2v2h-2zM470 270h2v2h-2zM472 272h2v2h-2zM474 274h2v2h-2zM476 276h2v2h-2zM478 278h2v2h-2zM480 280h2v2h-2zM482 282h2v2h-2zM484 284h2v2h-2zM486 286h2v2h-2zM488 288h2v2h-2zM490 290h2v2h-2zM492 292h2v2h-2zM494 294h2v2h-2zM496 296h2v2h-2zM498 298h2v2h-2zM396 180h2v2h-2zM398 182h2v2h-2zM400 184h2v2h-2zM402 186h2v2h-2zM404 188h2v2h-2zM406 190h2v2h-2zM408 192h2v2h-2zM410 194h2v2h-2zM412 196h2v2h-2zM414 198h2v2h-2zM416 200h2v2h-2zM418 202h2v2h-2zM420 204h2v2h-2zM422 206h2v2h-2zM424 208h2v2h-2zM426 210h2v2h-2zM428 212h2v2h-2zM430 214h2v2h-2zM432 216h2v2h-2zM434 218h2v2h-2zM436 220h2v2h-2zM438 222h2v2h-2zM440 224h2v2h-2zM442 226h2v2h-2zM444 228h2v2h-2zM446 230h2v2h-2zM448 232h2v2h-2zM450 234h2v2h-2zM452 236h2v2h-2zM454 238h2v2h-2zM456 240h2v2h-2zM458 242h2v2h-2zM460 244h2v2h-2zM462 246h2v2h-2zM464 248h2v2h-2zM466 250h2v2h-2zM468 252h2v2h-2zM470 254h2v2h-2zM472 256h2v2h-2zM474 258h2v2h-2zM476 260h2v2h-2zM478 262h2v2h-2zM480 264h2v2h-2zM482 266h2v2h-2zM484 268h2v2h-2zM486 270h2v2h-2zM488 272h2v2h-2zM490 274h2v2h-2zM492 276h2v2h-2zM494 278h2v2h-2zM496 280h2v2h-2zM498 282h2v2h-2zM500 284h2v2h-2zM502 286h2v2h-2zM504 288h2v2h-2zM506 290h2v2h-2zM508 292h2v2h-2zM510 294h2v2h-2zM512 296h2v2h-2zM514 298h2v2h-2zM396 164h2v2h-2zM398 166h2v2h-2zM400 168h2v2h-2zM402 170h2v2h-2zM404 172h2v2h-2zM406 174h2v2h-2zM408 176h2v2h-2zM410 178h2v2h-2zM412 180h2v2h-2zM414 182h2v2h-2zM416 184h2v2h-2zM418 186h2v2h-2zM420 188h2v2h-2zM422 190h2v2h-2zM424 192h2v2h-2zM426 194h2v2h-2zM428 196h2v2h-2zM430 198h2v2h-2zM432 200h2v2h-2zM434 202h2v2h-2zM436 204h2v2h-2zM438 206h2v2h-2zM440 208h2v2h-2zM442 210h2v2h-2zM444 212h2v2h-2zM446 214h2v2h-2zM448 216h2v2h-2zM450 218h2v2h-2zM452 220h2v2h-2zM454 222h2v2h-2zM456 224h2v2h-2zM458 226h2v2h-2zM460 228h2v2h-2zM462 230h2v2h-2zM464 232h2v2h-2zM466 234h2v2h-2zM468 236h2v2h-2zM470 238h2v2h-2zM472 240h2v2h-2zM474 242h2v2h-2zM476 244h2v2h-2zM478 246h2v2h-2zM480 248h2v2h-2zM482 250h2v2h-2zM484 252h2v2h-2zM486 254h2v2h-2zM488 256h2v2h-2zM490 258h2v2h-2zM492 260h2v2h-2zM494 262h2v2h-2zM496 264h2v2h-2zM498 266h2v2h-2zM500 268h2v2h-2zM502 270h2v2h-2zM504 272h2v2h-2zM506 274h2v2h-2zM508 276h2v2h-2zM510 278h2v2h-2zM512 280h2v2h-2zM514 282h2v2h-2zM516 284h2v2h-2zM518 286h2v2h-2zM520 288h2v2h-2zM396 148h2v2h-2zM398 150h2v2h-2zM400 152h2v2h-2zM402 154h2v2h-2zM404 156h2v2h-2zM406 158h2v2h-2zM408 160h2v2h-2zM410 162h2v2h-2zM412 164h2v2h-2zM414 166h2v2h-2zM416 168h2v2h-2zM418 170h2v2h-2zM420 172h2v2h-2zM422 174h2v2h-2zM424 176h2v2h-2zM426 178h2v2h-2zM428 180h2v2h-2zM430 182h2v2h-2zM432 184h2v2h-2zM434 186h2v2h-2zM436 188h2v2h-2zM438 190h2v2h-2zM440 192h2v2h-2zM442 194h2v2h-2zM444 196h2v2h-2zM446 198h2v2h-2zM448 200h2v2h-2zM450 202h2v2h-2zM452 204h2v2h-2zM454 206h2v2h-2zM456 208h2v2h-2zM458 210h2v2h-2zM460 212h2v2h-2zM462 214h2v2h-2zM464 216h2v2h-2zM466 218h2v2h-2zM468 220h2v2h-2zM470 222h2v2h-2zM472 224h2v2h-2zM474 226h2v2h-2zM476 228h2v2h-2zM478 230h2v2h-2zM480 232h2v2h-2zM482 234h2v2h-2zM484 236h2v2h-2zM486 238h2v2h-2zM488 240h2v2h-2zM490 242h2v2h-2zM492 244h2v2h-2zM494 246h2v2h-2zM496 248h2v2h-2zM498 250h2v2h-2zM500 252h2v2h-2zM502 254h2v2h-2zM504 256h2v2h-2zM506 258h2v2h-2zM508 260h2v2h-2zM510 262h2v2h-2zM512 264h2v2h-2zM514 266h2v2h-2zM516 268h2v2h-2zM518 270h2v2h-2zM520 272h2v2h-2zM404 140h2v2h-2zM406 142h2v2h-2zM408 144h2v2h-2zM410 146h2v2h-2zM412 148h2v2h-2zM414 150h2v2h-2zM416 152h2v2h-2zM418 154h2v2h-2zM420 156h2v2h-2zM422 158h2v2h-2zM424 160h2v2h-2zM426 162h2v2h-2zM428 164h2v2h-2zM430 166h2v2h-2zM432 168h2v2h-2zM434 170h2v2h-2zM436 172h2v2h-2zM438 174h2v2h-2zM440 176h2v2h-2zM442 178h2v2h-2zM444 180h2v2h-2zM446 182h2v2h-2zM448 184h2v2h-2zM450 186h2v2h-2zM452 188h2v2h-2zM454 190h2v2h-2zM456 192h2v2h-2zM458 194h2v2h-2zM460 196h2v2h-2zM462 198h2v2h-2zM464 200h2v2h-2zM466 202h2v2h-2zM468 204h2v2h-2zM470 206h2v2h-2zM472 208h2v2h-2zM474 210h2v2h-2zM476 212h2v2h-2zM478 214h2v2h-2zM480 216h2v2h-2zM482 218h2v2h-2zM484 220h2v2h-2zM486 222h2v2h-2zM488 224h2v2h-2zM490 226h2v2h-2zM492 228h2v2h-2zM494 230h2v2h-2zM496 232h2v2h-2zM498 234h2v2h-2zM500 236h2v2h-2zM502 238h2v2h-2zM504 240h2v2h-2zM506 242h2v2h-2zM508 244h2v2h-2zM510 246h2v2h-2zM512 248h2v2h-2zM514 250h2v2h-2zM516 252h2v2h-2zM518 254h2v2h-2zM520 256h2v2h-2zM420 140h2v2h-2zM422 142h2v2h-2zM424 144h2v2h-2zM426 146h2v2h-2zM428 148h2v2h-2zM430 150h2v2h-2zM432 152h2v2h-2zM434 154h2v2h-2zM436 156h2v2h-2zM438 158h2v2h-2zM440 160h2v2h-2zM442 162h2v2h-2zM444 164h2v2h-2zM446 166h2v2h-2zM448 168h2v2h-2zM450 170h2v2h-2zM452 172h2v2h-2zM454 174h2v2h-2zM456 176h2v2h-2zM458 178h2v2h-2zM460 180h2v2h-2zM462 182h2v2h-2zM464 184h2v2h-2zM466 186h2v2h-2zM468 188h2v2h-2zM470 190h2v2h-2zM472 192h2v2h-2zM474 194h2v2h-2zM476 196h2v2h-2zM478 198h2v2h-2zM480 200h2v2h-2zM482 202h2v2h-2zM484 204h2v2h-2zM486 206h2v2h-2zM488 208h2v2h-2zM490 210h2v2h-2zM492 212h2v2h-2zM494 214h2v2h-2zM496 216h2v2h-2zM498 218h2v2h-2zM500 220h2v2h-2zM502 222h2v2h-2zM504 224h2v2h-2zM506 226h2v2h-2zM508 228h2v2h-2zM510 230h2v2h-2zM512 232h2v2h-2zM514 234h2v2h-2zM516 236h2v2h-2zM518 238h2v2h-2zM520 240h2v2h-2zM436 140h2v2h-2zM438 142h2v2h-2zM440 144h2v2h-2zM442 146h2v2h-2zM444 148h2v2h-2zM446 150h2v2h-2zM448 152h2v2h-2zM450 154h2v2h-2zM452 156h2v2h-2zM454 158h2v2h-2zM456 160h2v2h-2zM458 162h2v2h-2zM460 164h2v2h-2zM462 166h2v2h-2zM464 168h2v2h-2zM466 170h2v2h-2zM468 172h2v2h-2zM470 174h2v2h-2zM472 176h2v2h-2zM474 178h2v2h-2zM476 180h2v2h-2zM478 182h2v2h-2zM480 184h2v2h-2zM482 186h2v2h-2zM484 188h2v2h-2zM486 190h2v2h-2zM488 192h2v2h-2zM490 194h2v2h-2zM492 196h2v2h-2zM494 198h2v2h-2zM496 200h2v2h-2zM498 202h2v2h-2zM500 204h2v2h-2zM502 206h2v2h-2zM504 208h2v2h-2zM506 210h2v2h-2zM508 212h2v2h-2zM510 214h2v2h-2zM512 216h2v2h-2zM514 218h2v2h-2zM516 220h2v2h-2zM518 222h2v2h-2zM520 224h2v2h-2zM452 140h2v2h-2zM454 142h2v2h-2zM456 144h2v2h-2zM458 146h2v2h-2zM460 148h2v2h-2zM462 150h2v2h-2zM464 152h2v2h-2zM466 154h2v2h-2zM468 156h2v2h-2zM470 158h2v2h-2zM472 160h2v2h-2zM474 162h2v2h-2zM476 164h2v2h-2zM478 166h2v2h-2zM480 168h2v2h-2zM482 170h2v2h-2zM484 172h2v2h-2zM486 174h2v2h-2zM488 176h2v2h-2zM490 178h2v2h-2zM492 180h2v2h-2zM494 182h2v2h-2zM496 184h2v2h-2zM498 186h2v2h-2zM500 188h2v2h-2zM502 190h2v2h-2zM504 192h2v2h-2zM506 194h2v2h-2zM508 196h2v2h-2zM510 198h2v2h-2zM512 200h2v2h-2zM514 202h2v2h-2zM516 204h2v2h-2zM518 206h2v2h-2zM520 208h2v2h-2zM468 140h2v2h-2zM470 142h2v2h-2zM472 144h2v2h-2zM474 146h2v2h-2zM476 148h2v2h-2zM478 150h2v2h-2zM480 152h2v2h-2zM482 154h2v2h-2zM484 156h2v2h-2zM486 158h2v2h-2zM488 160h2v2h-2zM490 162h2v2h-2zM492 164h2v2h-2zM494 166h2v2h-2zM496 168h2v2h-2zM498 170h2v2h-2zM500 172h2v2h-2zM502 174h2v2h-2zM504 176h2v2h-2zM506 178h2v2h-2zM508 180h2v2h-2zM510 182h2v2h-2zM512 184h2v2h-2zM514 186h2v2h-2zM516 188h2v2h-2zM518 190h2v2h-2zM520 192h2v2h-2zM484 140h2v2h-2zM486 142h2v2h-2zM488 144h2v2h-2zM490 146h2v2h-2zM492 148h2v2h-2zM494 150h2v2h-2zM496 152h2v2h-2zM498 154h2v2h-2zM500 156h2v2h-2zM502 158h2v2h-2zM504 160h2v2h-2zM506 162h2v2h-2zM508 164h2v2h-2zM510 166h2v2h-2zM512 168h2v2h-2zM514 170h2v2h-2zM516 172h2v2h-2zM518 174h2v2h-2zM520 176h2v2h-2zM500 140h2v2h-2zM502 142h2v2h-2zM504 144h2v2h-2zM506 146h2v2h-2zM508 148h2v2h-2zM510 150h2v2h-2zM512 152h2v2h-2zM514 154h2v2h-2zM516 156h2v2h-2zM518 158h2v2h-2zM520 160h2v2h-2zM516 140h2v2h-2zM518 142h2v2h-2zM520 144h2v2h-2z" fill="#000"/></g>
<path d="M420 154h46v2h32v2h12v2h10v3h-10v-2h-12v-2h-32v-2h-46zM517 160h3v122h-3zM420 284h50v0h18v-2h10v0h12v-2h10v2h-10v2h-12v2h-10v0h-18v2h-50z" fill="#000"/>
<path d="M422 157h4v5h-4zM428 157h2v11h-2zM434 152h2v2h-2zM444 152h2v2h-2zM455 152h3v2h-3zM470 154h8v2h-8zM482 154h6v2h-6z" fill="#000"/><path d="M424 162h4v6h-4z" fill="#999"/>
<path d="M70 174h2v2h-2zM70 184h2v2h-2zM70 194h2v2h-2zM70 204h2v2h-2zM70 214h2v2h-2zM70 224h2v2h-2zM70 234h2v2h-2zM70 244h2v2h-2zM70 254h2v2h-2zM120 174h2v2h-2zM120 184h2v2h-2zM120 194h2v2h-2zM120 204h2v2h-2zM120 214h2v2h-2zM120 224h2v2h-2zM120 234h2v2h-2zM120 244h2v2h-2zM120 254h2v2h-2zM120 264h2v2h-2zM170 174h2v2h-2zM170 184h2v2h-2zM170 194h2v2h-2zM170 204h2v2h-2zM170 214h2v2h-2zM170 224h2v2h-2zM170 234h2v2h-2zM170 244h2v2h-2zM170 254h2v2h-2zM170 264h2v2h-2zM220 164h2v2h-2zM220 174h2v2h-2zM220 184h2v2h-2zM220 194h2v2h-2zM220 204h2v2h-2zM220 214h2v2h-2zM220 224h2v2h-2zM220 234h2v2h-2zM220 244h2v2h-2zM220 254h2v2h-2zM220 264h2v2h-2zM270 164h2v2h-2zM270 174h2v2h-2zM270 184h2v2h-2zM270 194h2v2h-2zM270 204h2v2h-2zM270 214h2v2h-2zM270 224h2v2h-2zM270 234h2v2h-2zM270 244h2v2h-2zM270 254h2v2h-2zM270 264h2v2h-2zM270 274h2v2h-2zM320 164h2v2h-2zM320 174h2v2h-2zM320 184h2v2h-2zM320 194h2v2h-2zM320 204h2v2h-2zM320 214h2v2h-2zM320 224h2v2h-2zM320 234h2v2h-2zM320 244h2v2h-2zM320 254h2v2h-2zM320 264h2v2h-2zM320 274h2v2h-2zM370 154h2v2h-2zM370 164h2v2h-2zM370 174h2v2h-2zM370 184h2v2h-2zM370 194h2v2h-2zM370 204h2v2h-2zM370 214h2v2h-2zM370 224h2v2h-2zM370 234h2v2h-2zM370 244h2v2h-2zM370 254h2v2h-2zM370 264h2v2h-2zM370 274h2v2h-2zM370 284h2v2h-2zM420 274h2v2h-2zM420 284h2v2h-2zM40 174h2v2h-2zM50 174h2v2h-2zM60 174h2v2h-2zM80 174h2v2h-2zM90 174h2v2h-2zM100 174h2v2h-2zM110 174h2v2h-2zM130 174h2v2h-2zM140 174h2v2h-2zM150 174h2v2h-2zM160 174h2v2h-2zM180 174h2v2h-2zM190 174h2v2h-2zM200 174h2v2h-2zM210 174h2v2h-2zM230 174h2v2h-2zM240 174h2v2h-2zM250 174h2v2h-2zM260 174h2v2h-2zM280 174h2v2h-2zM290 174h2v2h-2zM300 174h2v2h-2zM310 174h2v2h-2zM330 174h2v2h-2zM340 174h2v2h-2zM350 174h2v2h-2zM360 174h2v2h-2zM380 174h2v2h-2zM390 174h2v2h-2zM400 174h2v2h-2zM410 174h2v2h-2zM30 224h2v2h-2zM40 224h2v2h-2zM50 224h2v2h-2zM60 224h2v2h-2zM80 224h2v2h-2zM90 224h2v2h-2zM100 224h2v2h-2zM110 224h2v2h-2zM130 224h2v2h-2zM140 224h2v2h-2zM150 224h2v2h-2zM160 224h2v2h-2zM180 224h2v2h-2zM190 224h2v2h-2zM200 224h2v2h-2zM210 224h2v2h-2zM230 224h2v2h-2zM240 224h2v2h-2zM250 224h2v2h-2zM260 224h2v2h-2zM280 224h2v2h-2zM290 224h2v2h-2zM300 224h2v2h-2zM310 224h2v2h-2zM330 224h2v2h-2zM340 224h2v2h-2zM350 224h2v2h-2zM360 224h2v2h-2zM380 224h2v2h-2zM390 224h2v2h-2zM400 224h2v2h-2zM230 274h2v2h-2zM240 274h2v2h-2zM250 274h2v2h-2zM260 274h2v2h-2zM280 274h2v2h-2zM290 274h2v2h-2zM300 274h2v2h-2zM310 274h2v2h-2zM330 274h2v2h-2zM340 274h2v2h-2zM350 274h2v2h-2zM360 274h2v2h-2zM380 274h2v2h-2zM390 274h2v2h-2zM400 274h2v2h-2zM410 274h2v2h-2z" fill="#fff"/>
<!-- trigger position arrow -->
<path d="M270 26h2v6h6v2h-2v2h-2v2h-2v2h-2v-2h-2v-2h-2v-2h-2v-2h6z" fill="#000"/>
<!-- channel marker arrow -->
<path d="M14 220h2v2h2v2h2v2h-2v2h-2v2h-2v-4h-2v-2h2z" fill="#000"/>
<!-- trigger waveform icon -->
<path d="M100 20h2v2h-2zM102 18h2v2h-2zM104 20h2v2h-2zM106 18h2v2h-2zM108 20h2v2h-2zM110 2h2v18h-2zM112 2h2v2h-2zM114 4h2v2h-2zM116 2h2v2h-2zM118 4h2v2h-2zM118 2h2v2h-2zM120 4h2v16h-2zM122 20h2v2h-2zM124 18h2v2h-2zM126 20h2v2h-2zM128 12h2v8h-2zM130 20h2v2h-2zM132 18h2v2h-2zM134 20h2v2h-2z" fill="#000"/>
<!-- checkbox -->
<rect x="201" y="3" width="16" height="18" fill="none" stroke="#000" stroke-width="2"/>
<!-- falling edge icon -->
<polyline points="492,429 497,429 503,443 508,443" fill="none" stroke="#000" stroke-width="2.4" shape-rendering="auto"/>
<g shape-rendering="auto" text-rendering="geometricPrecision">
<text transform="translate(1.60 22) scale(0.9649 1)" font-family="'Liberation Serif', serif" font-size="30.5" font-weight="bold" stroke="#000" stroke-width="0.3" stroke-linejoin="miter">Tek</text>
<text transform="translate(226.06 18) scale(0.8095 1)" font-family="'Liberation Sans', sans-serif" font-size="22.0" font-weight="normal" stroke="#000" stroke-width="1.0" stroke-linejoin="miter">Armed</text>
<text transform="translate(358.71 18) scale(0.8202 1)" font-family="'Liberation Sans', sans-serif" font-size="22.0" font-weight="normal" stroke="#000" stroke-width="1.0" stroke-linejoin="miter">M Pos: 700.0µs</text>
<text transform="translate(538.83 18) scale(0.7508 1)" font-family="'Liberation Sans', sans-serif" font-size="22.0" font-weight="normal" stroke="#000" stroke-width="1.0" stroke-linejoin="miter">MEASURE</text>
<text transform="translate(563.34 48) scale(0.7344 1)" font-family="'Liberation Sans', sans-serif" font-size="22.0" font-weight="normal" stroke="#000" stroke-width="1.0" stroke-linejoin="miter">CH1</text>
<text transform="translate(562.74 72) scale(0.8020 1)" font-family="'Liberation Sans', sans-serif" font-size="22.0" font-weight="normal" stroke="#000" stroke-width="1.0" stroke-linejoin="miter">Freq</text>
<text transform="translate(548.86 96) scale(0.7790 1)" font-family="'Liberation Sans', sans-serif" font-size="22.0" font-weight="normal" stroke="#000" stroke-width="1.0" stroke-linejoin="miter">102.0Hz</text>
<text transform="translate(563.34 128) scale(0.7344 1)" font-family="'Liberation Sans', sans-serif" font-size="22.0" font-weight="normal" stroke="#000" stroke-width="1.0" stroke-linejoin="miter">CH1</text>
<text transform="translate(562.72 152) scale(0.8131 1)" font-family="'Liberation Sans', sans-serif" font-size="22.0" font-weight="normal" stroke="#000" stroke-width="1.0" stroke-linejoin="miter">Max</text>
<text transform="translate(556.84 176) scale(0.7941 1)" font-family="'Liberation Sans', sans-serif" font-size="22.0" font-weight="normal" stroke="#000" stroke-width="1.0" stroke-linejoin="miter">14.4V</text>
<text transform="translate(563.34 208) scale(0.7344 1)" font-family="'Liberation Sans', sans-serif" font-size="22.0" font-weight="normal" stroke="#000" stroke-width="1.0" stroke-linejoin="miter">CH1</text>
<text transform="translate(540.82 232) scale(0.8430 1)" font-family="'Liberation Sans', sans-serif" font-size="22.0" font-weight="normal" stroke="#000" stroke-width="1.0" stroke-linejoin="miter">Cyc RMS</text>
<text transform="translate(556.95 256) scale(0.7921 1)" font-family="'Liberation Sans', sans-serif" font-size="22.0" font-weight="normal" stroke="#000" stroke-width="1.0" stroke-linejoin="miter">5.25V</text>
<text transform="translate(547.22 300) scale(0.8424 1)" font-family="'Liberation Sans', sans-serif" font-size="22.0" font-weight="normal" stroke="#000" stroke-width="1.0" stroke-linejoin="miter">CH2 Off</text>
<text transform="translate(562.72 324) scale(0.8131 1)" font-family="'Liberation Sans', sans-serif" font-size="22.0" font-weight="normal" stroke="#000" stroke-width="1.0" stroke-linejoin="miter">Max</text>
<text transform="translate(547.22 380) scale(0.8424 1)" font-family="'Liberation Sans', sans-serif" font-size="22.0" font-weight="normal" stroke="#000" stroke-width="1.0" stroke-linejoin="miter">CH2 Off</text>
<text transform="translate(562.74 404) scale(0.8020 1)" font-family="'Liberation Sans', sans-serif" font-size="22.0" font-weight="normal" stroke="#000" stroke-width="1.0" stroke-linejoin="miter">Freq</text>
<text transform="translate(1.36 444) scale(0.7225 1)" font-family="'Liberation Sans', sans-serif" font-size="22.0" font-weight="normal" stroke="#000" stroke-width="1.0" stroke-linejoin="miter">CH1</text>
<text transform="translate(46.85 444) scale(0.7851 1)" font-family="'Liberation Sans', sans-serif" font-size="22.0" font-weight="normal" stroke="#000" stroke-width="1.0" stroke-linejoin="miter">10.0V</text>
<text transform="translate(266.70 444) scale(0.8262 1)" font-family="'Liberation Sans', sans-serif" font-size="22.0" font-weight="normal" stroke="#000" stroke-width="1.0" stroke-linejoin="miter">M 50.0ms</text>
<text transform="translate(458.71 444) scale(0.8185 1)" font-family="'Liberation Sans', sans-serif" font-size="22.0" font-weight="normal" stroke="#000" stroke-width="1.0" stroke-linejoin="miter">Ext</text>
<text transform="translate(515.47 444) scale(0.7744 1)" font-family="'Liberation Sans', sans-serif" font-size="22.0" font-weight="normal" stroke="#000" stroke-width="1.0" stroke-linejoin="miter">0.00V</text>
<text transform="translate(267.15 472) scale(0.9109 1)" font-family="'Liberation Sans', sans-serif" font-size="22.0" font-weight="normal" stroke="#000" stroke-width="1.0" stroke-linejoin="miter">27-May-21 14:30</text>
<text transform="translate(459.23 472) scale(0.8333 1)" font-family="'Liberation Sans', sans-serif" font-size="22.0" font-weight="normal" stroke="#000" stroke-width="1.0" stroke-linejoin="miter">&lt;10Hz</text>
<text transform="translate(1.16 232) scale(0.6798 1)" font-family="'Liberation Sans', sans-serif" font-size="19.5" font-weight="normal" stroke="#000" stroke-width="1.0" stroke-linejoin="miter">1</text>
</g>
</svg></body></html>
